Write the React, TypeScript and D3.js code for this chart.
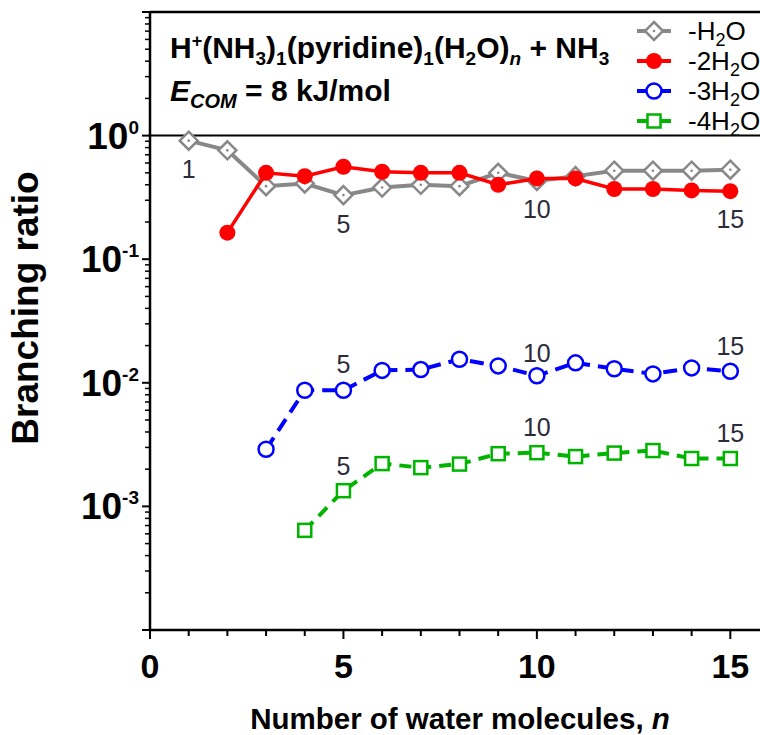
import React from "react";
import * as d3 from "d3";

// branching ratios
const nLoss1 = [1, 2, 3, 4, 5, 6, 7, 8, 9, 10, 11, 12, 13, 14, 15];
const loss1 = [0.91, 0.76, 0.39, 0.41, 0.33, 0.38, 0.4, 0.39, 0.5, 0.43, 0.47, 0.52, 0.52, 0.52, 0.53];
const nLoss2 = [2, 3, 4, 5, 6, 7, 8, 9, 10, 11, 12, 13, 14, 15];
const loss2 = [0.164, 0.5, 0.47, 0.56, 0.51, 0.5, 0.5, 0.4, 0.45, 0.45, 0.37, 0.37, 0.36, 0.355];
const nLoss3 = [3, 4, 5, 6, 7, 8, 9, 10, 11, 12, 13, 14, 15];
const loss3 = [0.0029, 0.0087, 0.0087, 0.0126, 0.0128, 0.0155, 0.0137, 0.0114, 0.0145, 0.013, 0.0118, 0.0132, 0.0124];
const nLoss4 = [4, 5, 6, 7, 8, 9, 10, 11, 12, 13, 14, 15];
const loss4 = [0.00064, 0.00134, 0.00222, 0.00206, 0.0022, 0.00267, 0.00272, 0.00253, 0.0027, 0.00283, 0.00244, 0.00244];

const legendNames = ["-H", "-2H", "-3H", "-4H"];
const xTicks = [0, 5, 10, 15];
const yExps = [0, -1, -2, -3];

// cluster-size labels next to the curves: [n, ratio at text baseline, text]
const sizeLabels: [number, number, string][] = [
  [1, 0.454, "1"], [5, 0.163, "5"], [10, 0.215, "10"], [15, 0.179, "15"],
  [5, 0.012, "5"], [10, 0.0146, "10"], [15, 0.0168, "15"],
  [5, 0.0018, "5"], [10, 0.0037, "10"], [15, 0.0033, "15"],
];

const W = 760, H = 735;
const x = d3.scaleLinear().domain([0, 16]).range([150, 769]);
const y = d3.scaleLog().domain([1e-4, 10]).range([630, 12]);

const gray = "#888888", red = "#ff0000", blue = "#0000ff", green = "#00b400";
const lblColor = "#2b2b3b";
const font = "'Liberation Sans', Arial, sans-serif";

function Diamond({ cx, cy }: { cx: number; cy: number }) {
  const r = 9;
  return (
    <g>
      <path d={`M${cx},${cy - r}L${cx + r},${cy}L${cx},${cy + r}L${cx - r},${cy}Z`} fill="white" stroke={gray} strokeWidth={2.5} />
      <circle cx={cx} cy={cy} r={1.3} fill={gray} />
    </g>
  );
}
function Dot({ cx, cy }: { cx: number; cy: number }) {
  return <circle cx={cx} cy={cy} r={8} fill={red} />;
}
function Ring({ cx, cy }: { cx: number; cy: number }) {
  return <circle cx={cx} cy={cy} r={7.5} fill="white" stroke={blue} strokeWidth={2.5} />;
}
function Square({ cx, cy }: { cx: number; cy: number }) {
  const s = 6.5;
  return <rect x={cx - s} y={cy - s} width={2 * s} height={2 * s} fill="white" stroke={green} strokeWidth={2.5} />;
}

export default function App() {
  const line = d3.line<[number, number]>().x(d => x(d[0])).y(d => y(d[1]));
  const pts = (ns: number[], vs: number[]) => ns.map((n, i) => [n, vs[i]] as [number, number]);
  const s1 = pts(nLoss1, loss1), s2 = pts(nLoss2, loss2), s3 = pts(nLoss3, loss3), s4 = pts(nLoss4, loss4);

  const minorY: number[] = [];
  for (let e = -4; e < 1; e++) for (let k = 2; k <= 9; k++) minorY.push(k * Math.pow(10, e));
  const minorX = d3.range(0, 16);

  const markers = [Diamond, Dot, Ring, Square];
  const colors = [gray, red, blue, green];

  return (
    <svg width={W} height={H} style={{ position: "absolute", left: 0, top: 0 }} fontFamily={font}>
      <rect width={W} height={H} fill="white" />

      {/* frame */}
      <line x1={x(0)} x2={W + 5} y1={12} y2={12} stroke="black" strokeWidth={2.5} />
      <line x1={x(0)} x2={W + 5} y1={y(1)} y2={y(1)} stroke="black" strokeWidth={2} />
      <line x1={x(0)} x2={x(0)} y1={11} y2={631} stroke="black" strokeWidth={2.5} />
      <line x1={x(0) - 1} x2={W + 5} y1={630} y2={630} stroke="black" strokeWidth={2.5} />

      {/* y ticks */}
      {minorY.map((v, i) => (
        <line key={"my" + i} x1={x(0) - 5} x2={x(0)} y1={y(v)} y2={y(v)} stroke="black" strokeWidth={1.5} />
      ))}
      {[1e-4, 1e-3, 1e-2, 1e-1, 1, 10].map((v, i) => (
        <line key={"My" + i} x1={x(0) - 8} x2={x(0)} y1={y(v)} y2={y(v)} stroke="black" strokeWidth={2} />
      ))}
      {yExps.map(e => (
        <text key={"yl" + e} x={139} y={y(Math.pow(10, e)) + 13} textAnchor="end" fontSize={37} fontWeight="bold">
          10<tspan fontSize={19} dy={-15}>{e}</tspan>
        </text>
      ))}

      {/* x ticks */}
      {minorX.map(v => (
        <line key={"mx" + v} x1={x(v)} x2={x(v)} y1={630} y2={v % 5 === 0 ? 639 : 636} stroke="black" strokeWidth={2} />
      ))}
      {xTicks.map(v => (
        <text key={"xl" + v} x={x(v)} y={678} textAnchor="middle" fontSize={34} fontWeight="bold">{v}</text>
      ))}

      {/* axis titles */}
      <text x={460} y={729} textAnchor="middle" fontSize={29.5} fontWeight="bold">
        Number of water molecules,  <tspan fontStyle="italic">n</tspan>
      </text>
      <text transform="translate(38,308) rotate(-90)" textAnchor="middle" fontSize={37} fontWeight="bold">Branching ratio</text>

      {/* series */}
      <path d={line(s1) || ""} fill="none" stroke={gray} strokeWidth={4} />
      {s1.map((d, i) => <Diamond key={"a" + i} cx={x(d[0])} cy={y(d[1])} />)}
      <path d={line(s2) || ""} fill="none" stroke={red} strokeWidth={3.5} />
      {s2.map((d, i) => <Dot key={"b" + i} cx={x(d[0])} cy={y(d[1])} />)}
      <path d={line(s3) || ""} fill="none" stroke={blue} strokeWidth={4} strokeDasharray="14,8" />
      {s3.map((d, i) => <Ring key={"c" + i} cx={x(d[0])} cy={y(d[1])} />)}
      <path d={line(s4) || ""} fill="none" stroke={green} strokeWidth={4} strokeDasharray="12,8" />
      {s4.map((d, i) => <Square key={"d" + i} cx={x(d[0])} cy={y(d[1])} />)}

      {sizeLabels.map((l, i) => (
        <text key={"sl" + i} x={x(l[0])} y={y(l[1])} textAnchor="middle" fontSize={25} fill={lblColor}>{l[2]}</text>
      ))}

      {/* title */}
      <text x={170} y={58} fontSize={30} fontWeight="bold">
        H<tspan fontSize={18} dy={-11}>+</tspan>
        <tspan dy={11}>(NH</tspan><tspan fontSize={19} dy={7}>3</tspan>
        <tspan dy={-7}>)</tspan><tspan fontSize={19} dy={7}>1</tspan>
        <tspan dy={-7}>(pyridine)</tspan><tspan fontSize={19} dy={7}>1</tspan>
        <tspan dy={-7}>(H</tspan><tspan fontSize={19} dy={7}>2</tspan>
        <tspan dy={-7}>O)</tspan><tspan fontSize={19} dy={7} fontStyle="italic">n</tspan>
        <tspan dy={-7}> + NH</tspan><tspan fontSize={19} dy={7}>3</tspan>
      </text>
      <text x={170} y={101} fontSize={30} fontWeight="bold">
        <tspan fontStyle="italic">E</tspan><tspan fontStyle="italic" fontSize={20} dy={7}>COM</tspan>
        <tspan dy={-7}> = 8 kJ/mol</tspan>
      </text>

      {/* legend */}
      {legendNames.map((nm, i) => {
        const ly = 31 + i * 30;
        const M = markers[i];
        return (
          <g key={"lg" + i}>
            <line x1={637} x2={671} y1={ly} y2={ly} stroke={colors[i]} strokeWidth={4} />
            <M cx={654} cy={ly} />
            <text x={688} y={ly + 9} fontSize={26}>
              {nm}<tspan fontSize={18} dy={6}>2</tspan><tspan dy={-6}>O</tspan>
            </text>
          </g>
        );
      })}
    </svg>
  );
}
